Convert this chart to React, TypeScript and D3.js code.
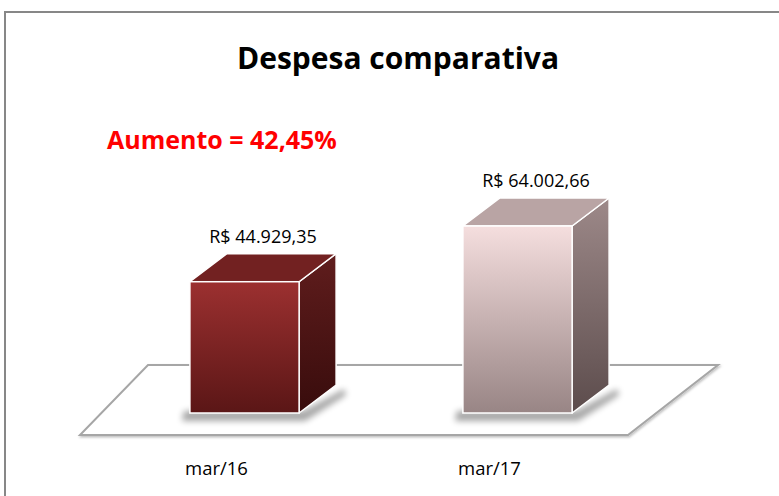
import React from 'react';
import * as d3 from 'd3';

const categories = ['mar/16', 'mar/17'];
const values = [44929.35, 64002.66];
const valueLabels = ['R$ 44.929,35', 'R$ 64.002,66'];
const title = 'Despesa comparativa';
const note = 'Aumento = 42,45%';

const W = 779;
const H = 496;
const FONT = '"Open Sans", Lato, sans-serif';

// per-bar palette: front top/bottom, top face, side top/bottom
const palettes = [
    { f0: '#9c3030', f1: '#5a1616', top: '#722121', s0: '#601d1d', s1: '#380c0c' },
    { f0: '#f5dede', f1: '#988585', top: '#b9a4a4', s0: '#9d8989', s1: '#5c4c4c' },
];

const App: React.FC = () => {
    const baseY = 413;
    const x = d3.scaleBand<string>().domain(categories).range([108, 654]).paddingInner(0.6).paddingOuter(0.3);
    const y = d3.scaleLinear().domain([0, 70000]).range([baseY, baseY - 70000 * (187 / 64002.66)]);
    const dx = 37; // bar depth
    const dy = 28;

    // floor plane (slight perspective: right side leans more)
    const fl = x.range()[0] - 28;
    const fr = x.range()[1] - 26;
    const floorFront = 435;
    const floorBack = 365;
    const floor = [
        [fl, floorFront],
        [fr, floorFront],
        [fr + 90, floorBack],
        [fl + 68, floorBack],
    ];
    const line = d3.line();

    return (
        <svg width={W} height={H} style={{ position: 'absolute', left: 0, top: 0, background: '#fff' }}>
            <defs>
                {palettes.map((p, i) => (
                    <React.Fragment key={i}>
                        <linearGradient id={`front${i}`} x1="0" y1="0" x2="0" y2="1">
                            <stop offset="0" stopColor={p.f0} />
                            <stop offset="1" stopColor={p.f1} />
                        </linearGradient>
                        <linearGradient id={`side${i}`} x1="0" y1="0" x2="0" y2="1">
                            <stop offset="0" stopColor={p.s0} />
                            <stop offset="1" stopColor={p.s1} />
                        </linearGradient>
                    </React.Fragment>
                ))}
                <filter id="blur" x="-20%" y="-50%" width="140%" height="200%">
                    <feGaussianBlur stdDeviation="3" />
                </filter>
                <filter id="lineShadow" x="-5%" y="-20%" width="110%" height="140%">
                    <feDropShadow dx="1" dy="1.5" stdDeviation="1" floodColor="#000" floodOpacity="0.25" />
                </filter>
            </defs>
            <rect x={5} y={12} width={W + 20} height={H + 20} fill="none" stroke="#878787" strokeWidth={2} />

            <text x={398} y={69} textAnchor="middle" fontFamily={FONT} fontWeight="bold" fontSize={30} fill="#000">
                {title}
            </text>
            <text x={107} y={149} fontFamily={FONT} fontWeight="bold" fontSize={25} fill="#ff0000">
                {note}
            </text>

            <path d={line(floor as [number, number][]) + 'Z'} fill="#fff" stroke="#a6a6a6" strokeWidth={2} filter="url(#lineShadow)" />

            {categories.map((c, i) => {
                const x0 = x(c)!;
                const bw = x.bandwidth();
                const x1 = x0 + bw;
                const yt = y(values[i]);
                const top = [[x0, yt], [x1, yt], [x1 + dx, yt - dy], [x0 + dx, yt - dy]];
                const side = [[x1, yt], [x1 + dx, yt - dy], [x1 + dx, baseY - dy], [x1, baseY]];
                const shadow = [[x0 - 6, baseY - 2], [x1 + 4, baseY - 2], [x1 + dx + 8, baseY - dy + 4], [x1 + dx + 10, baseY - dy + 10], [x1 + 6, baseY + 8], [x0 - 8, baseY + 8]];
                return (
                    <g key={c}>
                        <path d={line(shadow as [number, number][]) + 'Z'} fill="#000" opacity={0.35} filter="url(#blur)" />
                        <path d={line(side as [number, number][]) + 'Z'} fill={`url(#side${i})`} stroke="#fff" strokeWidth={1.5} strokeLinejoin="round" />
                        <path d={line(top as [number, number][]) + 'Z'} fill={palettes[i].top} stroke="#fff" strokeWidth={1.5} strokeLinejoin="round" />
                        <rect x={x0} y={yt} width={bw} height={baseY - yt} fill={`url(#front${i})`} stroke="#fff" strokeWidth={1.5} />
                        <text x={x0 + bw / 2 + dx / 2} y={yt - dy - 11} textAnchor="middle" fontFamily={FONT} fontSize={18} fill="#000">
                            {valueLabels[i]}
                        </text>
                        <text x={x0 + bw / 2 - 28} y={475} textAnchor="middle" fontFamily={FONT} fontSize={18.5} fill="#000">
                            {c}
                        </text>
                    </g>
                );
            })}
        </svg>
    );
};

export default App;
